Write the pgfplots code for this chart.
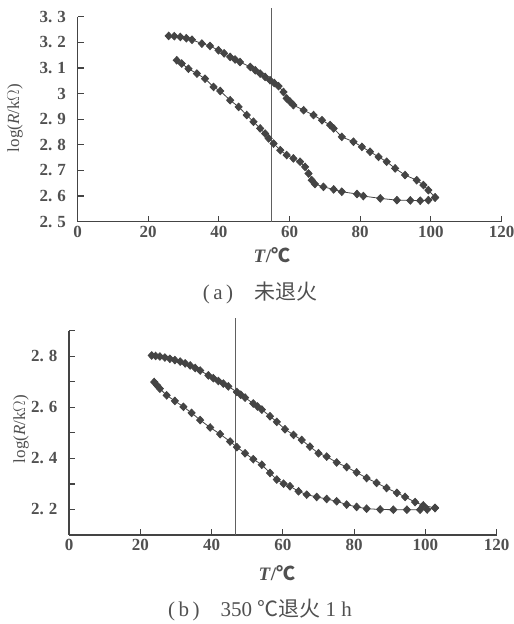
\documentclass[border=0pt]{standalone}
\usepackage{pgfplots}
\pgfplotsset{compat=1.18}
\usepackage{fontspec}
\setmainfont{Liberation Serif}
\newfontfamily\cjk{Noto Sans CJK SC}
\definecolor{ink}{HTML}{444444}
\definecolor{txt}{HTML}{505050}
\newcommand{\dnum}[2]{#1.\hspace{0.3em}#2}
\begin{document}
\begin{tikzpicture}
\useasboundingbox (0pt,0pt) rectangle (514pt,624pt);
\pgfplotsset{
 common/.style={scale only axis, axis lines=left,
  axis line style={-, line width=1.3pt, color=ink},
  tick align=inside, major tick length=6pt, minor tick length=6pt,
  every tick/.style={line width=1.2pt, color=ink},
  every minor tick/.style={line width=1.2pt, color=ink},
  ticklabel style={font=\fontsize{17}{17}\selectfont\bfseries, text=txt},
  xticklabel style={yshift=-1pt},
  yticklabel style={xshift=-8pt},
  clip=false, xmin=0, xmax=120, xtick={0,20,40,60,80,100,120},
  xticklabels={0,20,40,60,80,100,120}},
 dot/.style={color=ink, line width=0.8pt, mark=diamond*, mark size=3.8pt, mark options={fill=ink, draw=ink, xscale=1.25}},
 vline/.style={color=ink!85, line width=0.9pt, mark=none},
}
% ---------- (a)
\begin{axis}[common, at={(77.5pt,402.3pt)}, anchor=south west, width=424pt, height=205pt,
  ymin=2.5, ymax=3.3, ytick={2.5,2.6,2.7,2.8,2.9,3.0,3.1,3.2,3.3},
  yticklabels={\dnum25,\dnum26,\dnum27,\dnum28,\dnum29,3,\dnum31,\dnum32,\dnum33}]
\addplot[dot] coordinates {(25.8,3.225)(27.4,3.224)(29.1,3.221)(30.8,3.216)(32.4,3.210)(35.2,3.195)(37.5,3.186)(39.9,3.169)(41.5,3.157)(43.2,3.143)(44.6,3.133)(46.0,3.123)(48.9,3.104)(50.3,3.091)(51.7,3.078)(53.1,3.065)(54.5,3.052)(55.7,3.041)(56.9,3.029)(58.3,3.006)(59.2,2.981)(60.2,2.968)(61.1,2.955)(64.0,2.935)(66.8,2.916)(69.2,2.896)(71.5,2.877)(72.5,2.864)(74.8,2.831)(78.1,2.812)(80.5,2.792)(82.8,2.773)(85.2,2.753)(87.5,2.734)(89.9,2.708)(92.7,2.682)(96.0,2.662)(97.9,2.643)(99.3,2.623)(101.2,2.595)};
\addplot[dot] coordinates {(28.1,3.130)(29.5,3.117)(31.4,3.097)(33.8,3.078)(36.1,3.058)(38.5,3.026)(40.4,3.010)(43.2,2.974)(45.6,2.948)(47.9,2.916)(49.8,2.890)(51.7,2.864)(53.1,2.844)(54.1,2.825)(55.5,2.805)(57.4,2.779)(59.2,2.760)(61.1,2.747)(63.0,2.734)(64.4,2.714)(65.4,2.688)(66.3,2.662)(67.2,2.647)(69.6,2.636)(72.5,2.626)(74.8,2.617)(79.1,2.608)(80.9,2.600)(85.7,2.591)(90.4,2.584)(94.2,2.583)(97.0,2.582)(99.3,2.584)(101.2,2.594)};
\addplot[vline] coordinates {(54.9,2.5)(54.9,3.335)};
\end{axis}
% ---------- (b)
\begin{axis}[common, at={(69pt,89pt)}, anchor=south west, width=427.7pt, height=204.3pt,
  ymin=2.1, ymax=2.9, ytick={2.2,2.4,2.6,2.8}, minor ytick={2.1,2.3,2.5,2.7,2.9},
  yticklabels={\dnum22,\dnum24,\dnum26,\dnum28}]
\addplot[dot] coordinates {(23.2,2.803)(24.3,2.801)(25.5,2.799)(26.9,2.795)(28.3,2.790)(29.7,2.785)(31.2,2.779)(32.6,2.772)(34.0,2.764)(35.4,2.754)(36.8,2.744)(39.1,2.725)(40.5,2.714)(41.9,2.703)(43.3,2.693)(44.7,2.682)(47.1,2.660)(48.2,2.649)(49.4,2.638)(51.7,2.615)(52.9,2.603)(54.1,2.591)(56.4,2.565)(58.3,2.543)(60.6,2.514)(63.0,2.492)(65.3,2.472)(67.6,2.446)(70.0,2.420)(72.3,2.407)(75.1,2.384)(77.9,2.366)(80.7,2.345)(83.5,2.323)(86.3,2.304)(89.1,2.284)(92.0,2.265)(94.3,2.249)(97.1,2.229)(99.4,2.216)(102.7,2.206)};
\addplot[dot] coordinates {(23.9,2.699)(24.7,2.686)(25.5,2.673)(27.4,2.647)(29.7,2.625)(32.1,2.602)(34.4,2.578)(36.8,2.550)(39.6,2.521)(42.4,2.495)(45.2,2.466)(47.1,2.444)(49.4,2.420)(51.7,2.397)(54.1,2.375)(56.4,2.343)(58.3,2.317)(60.2,2.301)(62.0,2.291)(64.4,2.271)(66.7,2.258)(69.5,2.249)(72.3,2.241)(75.1,2.232)(77.9,2.219)(80.7,2.210)(83.5,2.203)(87.3,2.200)(91.0,2.199)(94.8,2.199)(98.5,2.199)(100.5,2.200)(102.7,2.206)};
\addplot[vline] coordinates {(46.8,2.1)(46.8,2.948)};
\end{axis}
% ---------- labels
\node[rotate=90, text=txt, font=\fontsize{17}{17}\selectfont] at (15pt,506pt) {log(\textit{R}/k$\Omega$)};
\node[rotate=90, text=txt, font=\fontsize{17}{17}\selectfont] at (21pt,195pt) {log(\textit{R}/k$\Omega$)};
\node[text=txt, font=\fontsize{19}{19}\selectfont\bfseries] at (272pt,369pt) {\textit{T}/{\cjk ℃}};
\node[text=txt, font=\fontsize{19}{19}\selectfont\bfseries] at (277pt,51pt) {\textit{T}/{\cjk ℃}};
\node[text=txt, font=\fontsize{21}{21}\selectfont] at (260pt,331pt) {(\,a\,)\quad{\cjk 未退火}};
\node[text=txt, font=\fontsize{21}{21}\selectfont] at (260pt,14pt) {(\,b\,)\quad 350 {\cjk ℃退火} 1 h};
\end{tikzpicture}
\end{document}
